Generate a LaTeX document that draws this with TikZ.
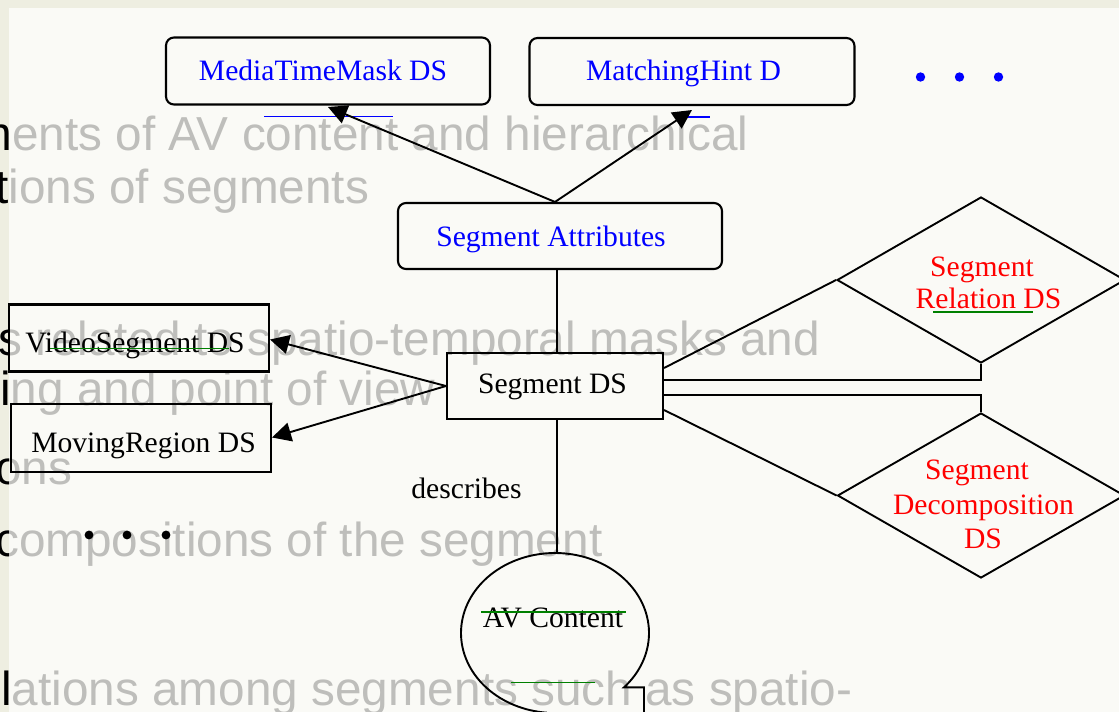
\documentclass[tikz,border=0pt]{standalone}
\usepackage{fontspec}
\setmainfont{Liberation Serif}
\newfontfamily\slidefont{Liberation Sans}
\usetikzlibrary{shapes.geometric,arrows.meta}

\definecolor{slideframe}{HTML}{EEEEE1}
\definecolor{slidepaper}{HTML}{FAFAF6}
\definecolor{linkblue}{HTML}{0000FF}
\definecolor{relred}{HTML}{FF0000}
\definecolor{markgreen}{HTML}{008000}

\begin{document}
\begin{tikzpicture}[x=1pt,y=-1pt,
  bodytext/.style={font=\slidefont\fontsize{47.7}{57}\selectfont, anchor=base west, inner sep=0pt, text=black},
  lbl/.style={font=\fontsize{29.6}{35}\selectfont, anchor=base, inner sep=0pt},
  rbox/.style={draw, rounded corners=8pt, line width=2.1pt, inner sep=0pt},
  sbox/.style={draw, line width=2.1pt, inner sep=0pt},
  dbox/.style={draw, diamond, line width=1.9pt, inner sep=0pt},
  conn/.style={line width=1.9pt},
  arr/.style={conn, -{Triangle[length=19pt,width=19pt]}},
  hiline/.style={line width=1.7pt},
]
\useasboundingbox (0,0) rectangle (1119,712);
\clip (0,0) rectangle (1119,712);

% slide frame and paper
\fill[slideframe] (0,0) rectangle (1119,712);
\fill[slidepaper] (8.5,8) rectangle (1119,712);

% slide body text, faded by the sheet laid over it
\node[bodytext] (b1) at (-27.7,150) {ments of AV content and hierarchical};
\node[bodytext] (b2) at (-5,203) {tions of segments};
\node[bodytext] (b3) at (-2,355) {s related to spatio-temporal masks and};
\node[bodytext] (b4) at (0,405) {ing and point of view};
\node[bodytext] (b5) at (-5,484) {ons};
\node[bodytext] (b6) at (-5,556) {compositions of the segment};
\node[bodytext] (b7) at (1,705) {lations among segments such as spatio-};
\fill[slidepaper, opacity=0.76] (8.5,8) rectangle (1119,712);

% boxes
\node[rbox, minimum width=324pt, minimum height=67pt] (mtm) at (328,71) {};
\node[rbox, minimum width=325pt, minimum height=67pt] (mh)  at (692,71.5) {};
\node[rbox, minimum width=324pt, minimum height=66pt] (sa)  at (560,236) {};
\node[sbox, minimum width=216pt, minimum height=66pt] (sds) at (555,386) {};
\node[sbox, minimum width=260pt, minimum height=67pt] (vsd) at (139,338) {};
\node[sbox, minimum width=260pt, minimum height=68pt] (mrd) at (141,438) {};
\node[dbox, minimum width=288pt, minimum height=166pt] (rel) at (981,280) {};
\node[dbox, minimum width=287pt, minimum height=165pt] (dec) at (981,495.5) {};
\node[ellipse, inner sep=0pt, minimum width=188pt, minimum height=160pt] (avc) at (555,633) {};

% labels
\node[lbl, text=linkblue] (tmtm) at (323,80) {MediaTimeMask DS};
\node[lbl, text=linkblue] (tmh)  at (683.5,80) {MatchingHint D};
\node[lbl, text=linkblue] (tsa)  at (551,246) {Segment Attributes};
\node[lbl] (tsds) at (552.5,393) {Segment DS};
\node[lbl] (tvsd) at (135,352) {VideoSegment DS};
\node[lbl] (tmrd) at (143.5,452) {MovingRegion DS};
\node[lbl] (tdes) at (466.5,498) {describes};
\node[lbl] (tavc) at (553,627) {AV Content};
\node[lbl, text=relred] (trel1) at (982,276) {Segment};
\node[lbl, text=relred] (trel2) at (988.5,308) {Relation DS};
\node[lbl, text=relred] (tdec1) at (977,479) {Segment};
\node[lbl, text=relred] (tdec2) at (983.5,514) {Decomposition};
\node[lbl, text=relred] (tdec3) at (983,548) {DS};

% ellipsis marks
\fill[linkblue] (920.5,77) circle[radius=4.7pt];
\fill[linkblue] (959.5,77) circle[radius=4.7pt];
\fill[linkblue] (998.5,77) circle[radius=4.7pt];
\fill[black] (89,535) circle[radius=4.4pt];
\fill[black] (127,535) circle[radius=4.4pt];
\fill[black] (166,535) circle[radius=4.4pt];

% link underlines
\draw[hiline, linkblue] (264,116.5) -- (393,116.5);
\draw[hiline, linkblue] (687,117) -- (710,117);

% arrow end points
\coordinate (tipMTM) at (328,107);
\coordinate (tipMH) at (692,110);
\coordinate (tipVS) at (270,339.5);
\coordinate (tipMR) at (272,437.5);

% connectors
\draw[arr] ([xshift=-5pt]sa.north) -- (tipMTM);
\draw[arr] ([xshift=-5pt]sa.north) -- (tipMH);
\draw[conn] ([xshift=-3pt]sa.south) -- ([xshift=2pt]sds.north);
\draw[arr] (sds.west) -- (tipVS);
\draw[arr] (sds.west) -- (tipMR);
\draw[conn] ([xshift=2pt]sds.south) -- ([xshift=2pt]avc.north);
\draw[conn] ([yshift=18pt]sds.east) -- (rel.west);
\draw[conn] ([yshift=6pt]sds.east) -| (rel.south);
\draw[conn] ([yshift=-9pt]sds.east) -| (dec.north);
\draw[conn] ([yshift=-24pt]sds.east) -- (dec.west);

% AV content: circle with a tape tail
\coordinate (avcTail) at (644,716);
\coordinate (avcNotch) at (644,687.4);
\draw[conn] (avcTail) -- (avcNotch) -- plot[domain=42.8:-265, samples=120, smooth] ({555+94*cos(\x)}, {633+80*sin(\x)});

% green marks
\draw[hiline, markgreen] (50,348.5) -- (228.5,348.5);
\draw[hiline, markgreen] (933,312) -- (1033,312);
\draw[hiline, markgreen] (481,612) -- (626,612);
\draw[hiline, markgreen] (511,682.5) -- (595,682.5);
\end{tikzpicture}
\end{document}
